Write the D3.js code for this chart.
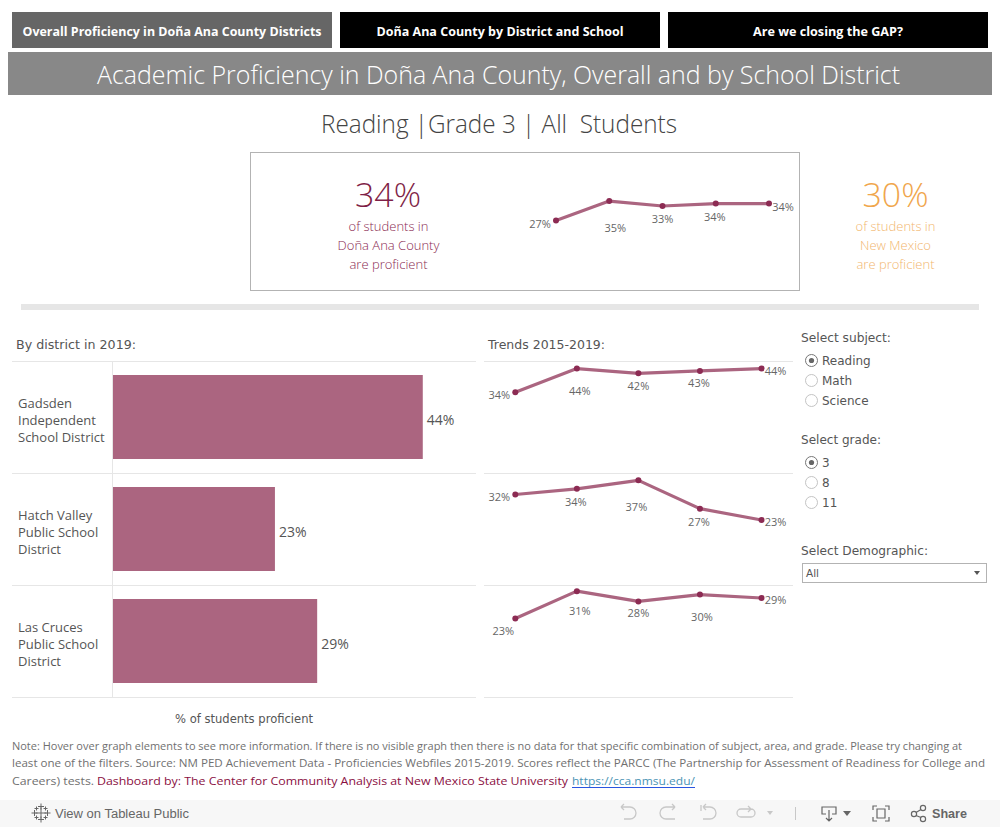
<!DOCTYPE html>
<html><head><meta charset="utf-8">
<script src="https://cdn.jsdelivr.net/npm/d3@7"></script>
<style>html,body{margin:0;padding:0;background:#fff;overflow:hidden}svg{display:block}text{font-family:"Open Sans",sans-serif}</style>
</head><body><div id="c"></div>
<script>
const navLabels = ["Overall Proficiency in Doña Ana County Districts","Doña Ana County by District and School","Are we closing the GAP?"];
const titleText = "Academic Proficiency in Doña Ana County, Overall and by School District";
const subtitleText = "Reading |Grade 3 | All  Students";
const years = [2015,2016,2017,2018,2019];
const countyValues = [27,35,33,34,34];
const districts = ["Gadsden Independent School District","Hatch Valley Public School District","Las Cruces Public School District"];
const districtLines = [["Gadsden","Independent","School District"],["Hatch Valley","Public School","District"],["Las Cruces","Public School","District"]];
const values2019 = [44,23,29];
const gadsdenTrend = [34,44,42,43,44];
const hatchTrend = [32,34,37,27,23];
const lasCrucesTrend = [23,31,28,30,29];
const subjects = ["Reading","Math","Science"];
const grades = ["3","8","11"];

const W=1000,H=827;
const svg=d3.select("#c").append("svg").attr("width",W).attr("height",H);
const FONT='"Open Sans",sans-serif', DV='"DejaVu Sans",sans-serif';
const T=(x,y,s,o={})=>{const t=svg.append("text").attr("x",x).attr("y",y).text(s)
  .attr("text-anchor",o.a||"start").attr("font-size",o.s||12).attr("fill",o.f||"#555")
  .style("font-family",o.ff||FONT).attr("font-weight",o.w||400);
  if(o.len){t.attr("textLength",o.len).attr("lengthAdjust","spacingAndGlyphs");}
  return t;};

// navigation
const navX=[12,340,668], navFill=["#666666","#000000","#000000"];
const navLen=[299,247,150];
navLabels.forEach((n,i)=>{
  svg.append("rect").attr("x",navX[i]).attr("y",12).attr("width",320).attr("height",36).attr("fill",navFill[i]);
  T(navX[i]+160,36,n,{a:"middle",s:12,w:700,f:"#fff",len:navLen[i]});
});
svg.append("rect").attr("x",8).attr("y",52).attr("width",984).attr("height",43).attr("fill","#888888");
T(498.5,84,titleText,{a:"middle",s:25,w:300,f:"#fff",len:803});
T(499,133,subtitleText,{a:"middle",s:25,w:300,f:"#444",len:356}).style("white-space","pre");

// KPI
svg.append("rect").attr("x",250.5).attr("y",152.5).attr("width",549).attr("height",138).attr("fill","none").attr("stroke","#b3b3b3");
T(388,207,"34%",{a:"middle",s:33,w:300,f:"#7f1f47",len:66});
["of students in","Doña Ana County","are proficient"].forEach((s,i)=>T(388.5,231+i*19,s,{a:"middle",s:13,w:300,f:"#8a2a52"}));
T(895.5,207,"30%",{a:"middle",s:33,w:300,f:"#f0a64c",len:66});
["of students in","New Mexico","are proficient"].forEach((s,i)=>T(895.5,231+i*19,s,{a:"middle",s:13,w:300,f:"#f2b66e"}));
svg.append("rect").attr("x",21).attr("y",304).attr("width",958).attr("height",6).attr("fill","#e6e6e6");

const LINE="#ab6580", DOT="#8c2b53", GRID="#e6e6e6";
function trend(vals,x0,x1,yBottom,yTop,yMax,offsets){
  const x=d3.scalePoint().domain(years).range([x0,x1]);
  const y=d3.scaleLinear().domain([0,yMax]).range([yBottom,yTop]);
  const line=d3.line().x((d,i)=>x(years[i])).y(d=>y(d));
  svg.append("path").attr("d",line(vals)).attr("fill","none").attr("stroke",LINE).attr("stroke-width",3.2).attr("stroke-linejoin","round");
  vals.forEach((v,i)=>{
    svg.append("circle").attr("cx",x(years[i])).attr("cy",y(v)).attr("r",3).attr("fill",DOT);
    T(x(years[i])+offsets[i][0],y(v)+offsets[i][1]+4,v+"%",{a:"middle",s:11,f:"#666"});
  });
}
trend(countyValues,556,769,286.5,154,54.3,[[-16,3],[6,27],[0,13],[-1,13],[14,3]]);

// By district
T(16,349,"By district in 2019:",{s:13,ff:DV,f:"#555",len:120});
T(488,349,"Trends 2015-2019:",{s:13,ff:DV,f:"#555",len:117});
const rowY=d3.scaleBand().domain(districts).range([361,697]).paddingInner(0.25).paddingOuter(0.125);
const barX=d3.scaleLinear().domain([0,51.56]).range([113,476]);
[361,473,585,697].forEach(y=>{
  svg.append("line").attr("x1",12).attr("x2",476).attr("y1",y+.5).attr("y2",y+.5).attr("stroke",GRID);
  svg.append("line").attr("x1",484).attr("x2",793).attr("y1",y+.5).attr("y2",y+.5).attr("stroke",GRID);
});
svg.append("line").attr("x1",112.5).attr("x2",112.5).attr("y1",361).attr("y2",697).attr("stroke",GRID);
districts.forEach((d,i)=>{
  svg.append("rect").attr("x",barX(0)).attr("y",rowY(d)).attr("width",barX(values2019[i])-barX(0)).attr("height",rowY.bandwidth()).attr("fill","#ab6580");
  T(barX(values2019[i])+4,rowY(d)+rowY.bandwidth()/2+8,values2019[i]+"%",{s:14,f:"#555"});
  districtLines[i].forEach((s,j)=>T(18,rowY(d)+rowY.bandwidth()/2-9+j*17,s,{s:13,f:"#555"}));
});
T(244,723,"% of students proficient",{a:"middle",s:11.5,ff:DV,f:"#555",len:138});

trend(gadsdenTrend,515.3,761.5,473,361,47.2,[[-16,3],[3,22],[0,13],[-1,12],[14,2]]);
trend(hatchTrend,515.3,761.5,585,473,39.6,[[-16,3],[-1,13],[-2,27],[-1,13],[14,2]]);
trend(lasCrucesTrend,515.3,761.5,697,585,32.8,[[-12,13],[3,20],[0,12],[2,22],[14,2]]);

// controls
function radios(title,yT,items,y0){
  T(801,yT,title,{s:13,ff:DV,f:"#555",len:title.length>14?90:80});
  items.forEach((s,i)=>{
    const y=y0+i*20;
    svg.append("circle").attr("cx",811.5).attr("cy",y).attr("r",6).attr("fill","#fff").attr("stroke",i==0?"#777":"#c4c4c4").attr("stroke-width",1);
    if(i==0) svg.append("circle").attr("cx",811.5).attr("cy",y).attr("r",2.6).attr("fill","#666");
    T(822,y+4.5,s,{s:12,ff:DV,f:"#555"});
  });
}
radios("Select subject:",342,subjects,360.5);
radios("Select grade:",444,grades,462.5);
T(801,555,"Select Demographic:",{s:13,ff:DV,f:"#555",len:127});
svg.append("rect").attr("x",802.5).attr("y",563.5).attr("width",184).attr("height",19).attr("fill","#fff").attr("stroke","#b3b3b3");
T(806,577,"All",{s:10.5,ff:DV,f:"#555"});
svg.append("path").attr("d","M974 571h6l-3 4z").attr("fill","#555");

// note
const NC="#707070";
T(12,750,"Note: Hover over graph elements to see more information. If there is no visible graph then there is no data for that specific combination of subject, area, and grade. Please try changing at",{s:11,f:NC,len:950});
T(12,767,"least one of the filters. Source: NM PED Achievement Data - Proficiencies Webfiles 2015-2019. Scores reflect the PARCC (The Partnership for Assessment of Readiness for College and",{s:11,f:NC,len:973});
T(12,785,"Careers) tests.",{s:11,f:NC,len:82});
T(97,785,"Dashboard by: The Center for Community Analysis at New Mexico State University",{s:11,f:"#8a0f42",len:471});
T(572,785,"https://cca.nmsu.edu/",{s:11,f:"#4a93b5",len:123});
svg.append("line").attr("x1",572).attr("x2",695).attr("y1",787.5).attr("y2",787.5).attr("stroke","#2a55e0");

// toolbar
svg.append("rect").attr("x",0).attr("y",800).attr("width",W).attr("height",27).attr("fill","#f7f7f7");
const TB="#666", TD="#c8c8c8";
const ic=svg.append("g").attr("fill","none").attr("stroke",TB);
[[41,813,5.5],[34.5,813,3],[47.5,813,3],[41,806.5,3],[41,819.5,3]].forEach(([x,y,r])=>{
  ic.append("path").attr("d",`M${x-r} ${y}H${x+r}M${x} ${y-r}V${y+r}`);
});
[[36.5,808.5],[45.5,808.5],[36.5,817.5],[45.5,817.5]].forEach(([x,y])=>ic.append("path").attr("d",`M${x-2} ${y}H${x+2}M${x} ${y-2}V${y+2}`));
T(55,818,"View on Tableau Public",{s:12,ff:'"Liberation Sans",sans-serif',f:"#666",w:400,len:134});
const dis=svg.append("g").attr("fill","none").attr("stroke",TD).attr("stroke-width",1.3);
dis.append("path").attr("d","M621 807l3-3M621 807l3 3M621 807h9a6 6 0 0 1 0 12h-6");
dis.append("path").attr("d","M675 807l-3-3M675 807l-3 3M675 807h-9a6 6 0 0 0 0 12h9");
dis.append("path").attr("d","M701 805v6M703 807l3-3M703 807l3 3M703 807h7a6 6 0 0 1 0 12h-7");
dis.append("path").attr("d","M751 809l-3-3M751 809l-3 3M751 809h-10a4 4 0 0 0 0 8h10a3 3 0 0 0 0-8");
svg.append("path").attr("d","M767 811h6l-3 4z").attr("fill",TD);
svg.append("line").attr("x1",795.5).attr("x2",795.5).attr("y1",807).attr("y2",820).attr("stroke",TD);
const act=svg.append("g").attr("fill","none").attr("stroke",TB).attr("stroke-width",1.2);
act.append("path").attr("d","M826 814h-4v-7h14v7h-4M829 810v11M826 818l3 3l3-3");
svg.append("path").attr("d","M843 811h8l-4 5z").attr("fill",TB);
act.append("path").attr("d","M873 810v-4h4M885 806h4v4M889 817v4h-4M877 821h-4v-4M877 809h8v9h-8z");
act.append("circle").attr("cx",914).attr("cy",814).attr("r",2.6);
act.append("circle").attr("cx",923).attr("cy",808).attr("r",2.6);
act.append("circle").attr("cx",923).attr("cy",819).attr("r",2.6);
act.append("path").attr("d","M916 812.500L921 809.500M916 815.500L921 817.500");
T(932,818,"Share",{s:12,ff:'"Liberation Sans",sans-serif',f:"#666",w:700,len:35});
</script></body></html>
